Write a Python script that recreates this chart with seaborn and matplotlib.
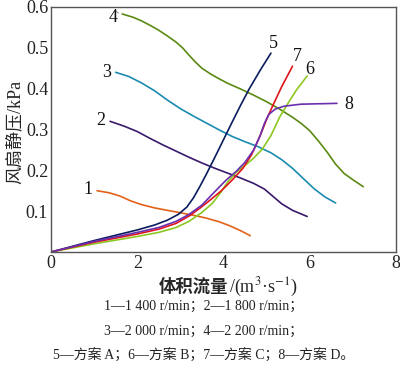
import numpy as np
import pandas as pd
import seaborn as sns
from matplotlib import pyplot as plt

## Curve data (flow m3/s, static pressure kPa)
x1 = [1.07, 1.35, 1.6, 1.85, 2.1, 2.4, 2.7, 3.0, 3.3, 3.6, 3.9, 4.15, 4.4, 4.62]
y1 = [0.150, 0.145, 0.137, 0.125, 0.116, 0.108, 0.102, 0.096, 0.090, 0.083, 0.074, 0.064, 0.052, 0.040]

x2 = [1.37, 1.7, 2.0, 2.3, 2.6, 2.9, 3.2, 3.5, 3.8, 4.1, 4.4, 4.7, 4.95, 5.15, 5.35, 5.6, 5.94]
y2 = [0.320, 0.308, 0.295, 0.278, 0.262, 0.247, 0.232, 0.218, 0.205, 0.193, 0.181, 0.168, 0.154, 0.136, 0.118, 0.102, 0.087]

x3 = [1.5, 1.8, 2.1, 2.4, 2.7, 3.0, 3.3, 3.6, 3.9, 4.2, 4.5, 4.8, 5.1, 5.35, 5.6, 5.85, 6.1, 6.35, 6.6]
y3 = [0.440, 0.430, 0.414, 0.395, 0.372, 0.351, 0.333, 0.316, 0.299, 0.283, 0.270, 0.258, 0.243, 0.226, 0.205, 0.180, 0.155, 0.135, 0.120]

x4 = [1.65, 1.9, 2.1, 2.3, 2.5, 2.7, 2.9, 3.05, 3.2, 3.35, 3.5, 3.7, 3.9, 4.1, 4.4, 4.7,
      5.0, 5.3, 5.6, 5.8, 6.0, 6.2, 6.4, 6.6, 6.8, 7.0, 7.24]
y4 = [0.583, 0.575, 0.566, 0.555, 0.543, 0.529, 0.514, 0.500, 0.482, 0.465, 0.450, 0.436, 0.424, 0.413, 0.399, 0.384,
      0.368, 0.350, 0.330, 0.315, 0.297, 0.272, 0.245, 0.215, 0.192, 0.177, 0.160]

x5 = [0, 0.5, 1.0, 1.5, 2.0, 2.4, 2.7, 2.95, 3.15, 3.3, 3.45, 3.6, 3.8, 4.0, 4.2, 4.4, 4.6, 4.85, 5.1]
y5 = [0, 0.014, 0.028, 0.041, 0.054, 0.066, 0.078, 0.092, 0.110, 0.132, 0.160, 0.190, 0.232, 0.275, 0.318, 0.360, 0.400, 0.445, 0.487]

x6 = [0, 0.5, 1.0, 1.5, 2.0, 2.5, 2.9, 3.2, 3.5, 3.75, 3.95, 4.1, 4.3, 4.5, 4.7, 4.9, 5.1, 5.3, 5.5, 5.7, 5.94]
y6 = [0, 0.010, 0.020, 0.029, 0.038, 0.048, 0.060, 0.075, 0.097, 0.120, 0.148, 0.172, 0.196, 0.212, 0.230, 0.252, 0.285, 0.330, 0.365, 0.398, 0.431]

x7 = [0, 0.5, 1.0, 1.5, 2.0, 2.5, 2.9, 3.2, 3.45, 3.7, 3.95, 4.2, 4.45, 4.65, 4.85, 5.0, 5.15, 5.35, 5.6]
y7 = [0, 0.012, 0.024, 0.034, 0.044, 0.056, 0.070, 0.088, 0.107, 0.128, 0.150, 0.176, 0.205, 0.238, 0.285, 0.325, 0.360, 0.405, 0.455]

x8 = [0, 0.5, 1.0, 1.5, 2.0, 2.5, 2.9, 3.2, 3.5, 3.8, 4.05, 4.3, 4.5, 4.7, 4.85, 4.95, 5.05, 5.2, 5.4, 5.8, 6.63]
y8 = [0, 0.013, 0.026, 0.037, 0.048, 0.060, 0.075, 0.092, 0.115, 0.148, 0.175, 0.198, 0.220, 0.250, 0.285, 0.315, 0.337, 0.350, 0.357, 0.362, 0.364]

series_x = [x1, x2, x3, x4, x5, x6, x7, x8]
series_y = [y1, y2, y3, y4, y5, y6, y7, y8]
names = ["1", "2", "3", "4", "5", "6", "7", "8"]
colors = ["#e2621a", "#38196b", "#1b8bb0", "#5b8a12", "#0b1c5e", "#8cc821", "#e0141a", "#6a2fae"]

rows = []
for n, xs, ys in zip(names, series_x, series_y):
    for a, b in zip(xs, ys):
        rows.append({"curve": n, "flow": a, "pressure": b})
df = pd.DataFrame(rows)

sns.set_theme(style="white")
plt.rcParams['font.family'] = ['Liberation Serif', 'Noto Sans CJK SC']
plt.rcParams['mathtext.fontset'] = 'stix'

fig = plt.figure(figsize=(4.0, 3.72), dpi=100)
ax = fig.add_axes([0.1275, 0.3226, 0.8625, 0.6586])

sns.lineplot(data=df, x="flow", y="pressure", hue="curve", palette=colors,
             sort=False, estimator=None, linewidth=1.2, legend=False, ax=ax)

ax.set_xlim(0, 8)
ax.set_ylim(0, 0.6)
ax.set_xticks([0, 2, 4, 6, 8])
ax.set_yticks([0.1, 0.2, 0.3, 0.4, 0.5, 0.6])
ax.set_yticklabels(["0.1", "0.2", "0.3", "0.4", "0.5", "0.6"])
ax.tick_params(direction="in", length=4, width=0.8, labelsize=13, colors="#222222", pad=2)
for s in ax.spines.values():
    s.set_color("#555555")
    s.set_linewidth(1.0)

# curve labels
lab_pos = {"1": (0.85, 0.152), "2": (1.15, 0.322), "3": (1.28, 0.440),
           "4": (1.45, 0.575), "5": (5.15, 0.51), "7": (5.7, 0.478),
           "6": (6.0, 0.448), "8": (6.9, 0.362)}
for n, (a, b) in lab_pos.items():
    ax.text(a, b, n, fontsize=13, ha="center", va="center", color="#111111")
ax.plot([1.5, 1.57], [0.59, 0.585], color="#888888", lw=0.6)

ax.set_xlabel("")
ax.set_ylabel("")
fig.text(0.038, 0.645, "风扇静压/kPa", rotation=90, ha="center", va="center",
         fontsize=13, family=['Liberation Serif', 'Noto Sans CJK SC'])

# x label: bold Chinese part + serif unit part
fig.text(0.572, 0.228, "体积流量", ha="right", va="center",
         fontsize=12.5, fontweight="bold", family=['Noto Sans CJK SC', 'DejaVu Sans'])
fig.text(0.572, 0.228, "/(m$^{3}$·s$^{-1}$)", ha="left", va="center",
         fontsize=13, family=['Liberation Serif', 'DejaVu Sans'])

cap_font = ['Liberation Serif', 'Noto Sans CJK SC']
fig.text(0.51, 0.175, "1—1 400 r/min；2—1 800 r/min；", ha="center", va="center",
         fontsize=10, family=cap_font, color="#222222")
fig.text(0.51, 0.11, "3—2 000 r/min；4—2 200 r/min；", ha="center", va="center",
         fontsize=10, family=cap_font, color="#222222")
fig.text(0.51, 0.045, "5—方案 A；6—方案 B；7—方案 C；8—方案 D。", ha="center", va="center",
         fontsize=10, family=cap_font, color="#222222")

fig.savefig("out.png", dpi=100)
